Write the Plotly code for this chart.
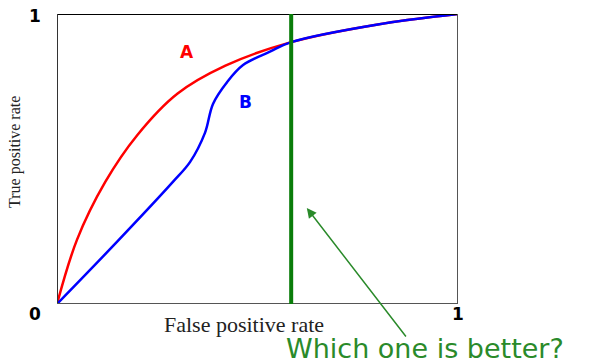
import plotly.graph_objects as go

# ROC curve A (red)
fpr_a = [0.0, 0.05, 0.12, 0.20, 0.30, 0.42, 0.584, 0.80, 1.0]
tpr_a = [0.0, 0.222, 0.420, 0.582, 0.725, 0.822, 0.903, 0.964, 1.0]

# ROC curve B (blue)
fpr_b = [0.0, 0.150, 0.289, 0.332, 0.369, 0.389, 0.424, 0.464, 0.531, 0.584, 0.80, 1.0]
tpr_b = [0.0, 0.215, 0.421, 0.490, 0.590, 0.690, 0.765, 0.824, 0.870, 0.903, 0.964, 1.0]

# threshold line and pointer
threshold_x = 0.584
arrow_head = (0.623, 0.331)
arrow_tail = (0.873, -0.117)

fig = go.Figure()
fig.add_trace(go.Scatter(x=fpr_a, y=tpr_a, mode="lines",
                         line=dict(color="#ff0000", width=2.5, shape="spline", smoothing=1.0),
                         cliponaxis=False, hoverinfo="skip"))
fig.add_trace(go.Scatter(x=fpr_b, y=tpr_b, mode="lines",
                         line=dict(color="#0000ff", width=2.5, shape="spline", smoothing=1.0),
                         cliponaxis=False, hoverinfo="skip"))

# frame
fig.add_shape(type="line", xref="x", yref="y", x0=0, x1=1, y0=1, y1=1, line=dict(color="#000", width=2))
fig.add_shape(type="line", xref="x", yref="y", x0=0, x1=0, y0=0, y1=1, line=dict(color="#333", width=2))
fig.add_shape(type="line", xref="x", yref="y", x0=1, x1=1, y0=0, y1=1, line=dict(color="#555", width=2))
fig.add_shape(type="line", xref="x", yref="y", x0=0, x1=1, y0=0, y1=0, line=dict(color="#555", width=2))

# vertical threshold
fig.add_shape(type="line", xref="x", yref="y", x0=threshold_x, x1=threshold_x, y0=0, y1=1,
              line=dict(color="#0a7d0a", width=4))

bold = dict(family="DejaVu Sans", size=17)
labels = [
    ("<b>A</b>", 0.324, 0.869, "#ff0000"),
    ("<b>B</b>", 0.469, 0.697, "#0000ff"),
    ("<b>1</b>", -0.055, 0.993, "#000000"),
    ("<b>0</b>", -0.055, -0.034, "#000000"),
    ("<b>1</b>", 1.0, -0.034, "#000000"),
]
for txt, px, py, col in labels:
    fig.add_annotation(x=px, y=py, xref="paper", yref="paper", text=txt, showarrow=False,
                       xanchor="center", yanchor="middle", font=dict(bold, color=col))

fig.add_annotation(x=arrow_head[0], y=arrow_head[1], ax=arrow_tail[0], ay=arrow_tail[1],
                   xref="x", yref="y", axref="x", ayref="y", text="", showarrow=True,
                   arrowhead=2, arrowsize=1.3, arrowwidth=1.5, arrowcolor="#2a8a2a")

fig.add_annotation(x=0.918, y=-0.155, xref="paper", yref="paper", text="Which one is better?",
                   showarrow=False, xanchor="center", yanchor="middle",
                   font=dict(family="DejaVu Sans", size=27, color="#2a8a2a"))

# axis titles
fig.add_annotation(x=0.466, y=-0.069, xref="paper", yref="paper", text="False positive rate",
                   showarrow=False, xanchor="center", yanchor="middle",
                   font=dict(family="Liberation Serif", size=22, color="#222"))
fig.add_annotation(x=-0.105, y=0.524, xref="paper", yref="paper",
                   text="True positive rate", textangle=-90, showarrow=False,
                   xanchor="center", yanchor="middle",
                   font=dict(family="Liberation Serif", size=16, color="#222"))

fig.update_xaxes(range=[0, 1], showgrid=False, zeroline=False, showticklabels=False, ticks="")
fig.update_yaxes(range=[0, 1], showgrid=False, zeroline=False, showticklabels=False, ticks="")

fig.update_layout(width=590, height=363, margin=dict(l=57, r=132, t=14, b=59),
                  plot_bgcolor="white", paper_bgcolor="white", showlegend=False)

fig.write_html("out.html")
